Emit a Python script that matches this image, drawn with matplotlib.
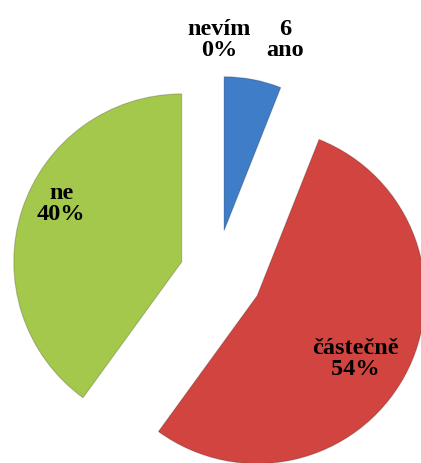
import matplotlib.pyplot as plt

# data
categories = ['ano', 'částečně', 'nevím', 'ne']
values = [6, 54, 0, 40]
colors = ['#3F7DC9', '#D2443F', '#4F81BD', '#A3C84C']
explode = [43, 47, 30, 36]  # offsets in pixels

W, H = 421, 464

fig = plt.figure(figsize=(W / 100, H / 100), dpi=100)
ax = fig.add_axes([0, 0, 1, 1])

wedges, _ = ax.pie(values, colors=colors, explode=explode, startangle=90,
                   counterclock=False, radius=168, center=(216, H - 274),
                   wedgeprops=dict(linewidth=0.8, edgecolor='#00000030'))
for w, v in zip(wedges, values):
    if v == 0:
        w.set_visible(False)
# the small slice looks a bit shorter in the original
wedges[0].set_radius(154)

ax.set_xlim(0, W)
ax.set_ylim(0, H)
ax.set_aspect('equal')
ax.axis('off')

font = dict(family='Liberation Serif', fontweight='bold', fontsize=17.5,
            ha='center', va='center', color='black')

# label positions in pixel coords (from top)
label_pos = {
    'ano': (285, 40),
    'částečně': (355, 359),
    'nevím': (219, 40),
    'ne': (61, 204),
}
label_text = {
    'ano': '6\nano',
    'částečně': 'částečně\n54%',
    'nevím': 'nevím\n0%',
    'ne': 'ne\n40%',
}
for cat in categories:
    x, y = label_pos[cat]
    ax.text(x, H - y, label_text[cat], linespacing=1.05, **font)

fig.savefig('out.png', dpi=100)
